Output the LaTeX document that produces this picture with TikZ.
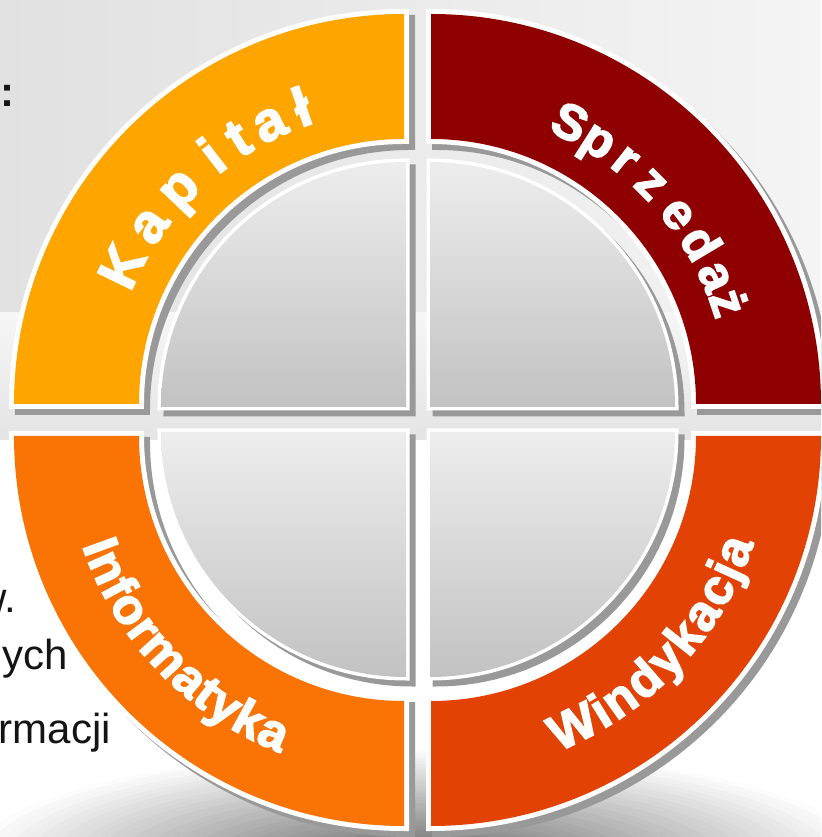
\documentclass[tikz,border=0pt]{standalone}
\usepackage{fontspec}
\setmainfont{Liberation Sans}
\newfontfamily\bandfont{Liberation Sans Bold}[FakeBold=3]
\definecolor{kapc}{HTML}{FFA500}
\definecolor{sprc}{HTML}{8F0000}
\definecolor{infc}{HTML}{FA7305}
\definecolor{winc}{HTML}{E24304}
\definecolor{shadc}{HTML}{999999}
\definecolor{qtop}{HTML}{EDEDED}
\definecolor{qbot}{HTML}{C2C2C2}
\definecolor{bgl}{HTML}{E1E1E1}
\definecolor{bgr}{HTML}{F4F4F4}
\definecolor{midt}{HTML}{F6F6F6}
\definecolor{midb}{HTML}{E4E4E4}
\definecolor{txtc}{HTML}{141414}
\begin{document}
\begin{tikzpicture}[x=1pt,y=1pt,
  lett/.style={text=white, inner sep=0pt, anchor=base},
  kaplett/.style={lett, font=\bandfont\fontsize{55}{55}\selectfont},
  sprlett/.style={lett, font=\bandfont\fontsize{50}{50}\selectfont},
  botlett/.style={lett, font=\bandfont\fontsize{50}{50}\selectfont},
  sidetext/.style={text=txtc, inner sep=0pt, font=\fontsize{42}{50}\selectfont},
  bandshadow/.style={fill=shadc, draw=shadc, line width=10pt},
  bandfill/.style={preaction={draw=white, line width=10pt}, fill=#1},
  quadshadow/.style={fill=shadc, draw=shadc, line width=7pt},
  quadfill/.style={preaction={draw=white, line width=7pt}, top color=qtop, bottom color=qbot}]
\useasboundingbox (0,0) rectangle (821,837);
\clip (0,0) rectangle (821,837);
% background
\fill[white] (0,0) rectangle (821,837);
\shade[left color=bgl, right color=bgr] (0,524) rectangle (821,837);
\shade[top color=midt, bottom color=midb] (0,397) rectangle (821,524);
\foreach \i in {0,...,40}{
  \pgfmathsetmacro\rx{460*(1-\i/41)}
  \pgfmathsetmacro\ry{115*(1-\i/41)}
  \pgfmathtruncatemacro\p{\i*60/40}
  \fill[black!\p] (420,-25) ellipse[x radius=\rx, y radius=\ry];
}
% side texts (partly hidden behind the ring)
\node[sidetext, anchor=base west] (colon) at (0,730) {\textbf{:}};
\node[sidetext, anchor=base east] (t1) at (16,224) {w.};
\node[sidetext, anchor=base east] (t2) at (68,167) {ych};
\node[sidetext, anchor=base east] (t3) at (111,93) {rmacji};
% shadows
\foreach \cx/\cy/\a in {404/433/90,431/433/0,404/401/180,431/401/270}{
  \begin{scope}[shift={(\cx+6,\cy-6)}]
    \path[bandshadow] (\a:390) arc[start angle=\a,end angle=\a+90,radius=390] -- (\a+90:265) arc[start angle=\a+90,end angle=\a,radius=265] -- cycle;
  \end{scope}}
\foreach \cx/\cy/\a in {406/430/90,430/430/0,406/405/180,430/405/270}{
  \begin{scope}[shift={(\cx+6,\cy-6)}]
    \path[quadshadow] (0,0) -- (\a:245) arc[start angle=\a,end angle=\a+90,radius=245] -- cycle;
  \end{scope}}
% bands
\foreach \cx/\cy/\a/\c in {404/433/90/kapc,431/433/0/sprc,404/401/180/infc,431/401/270/winc}{
  \begin{scope}[shift={(\cx,\cy)}]
    \path[bandfill=\c] (\a:390) arc[start angle=\a,end angle=\a+90,radius=390] -- (\a+90:265) arc[start angle=\a+90,end angle=\a,radius=265] -- cycle;
  \end{scope}}
% grey quarters
\foreach \cx/\cy/\a in {406/430/90,430/430/0,406/405/180,430/405/270}{
  \begin{scope}[shift={(\cx,\cy)}]
    \path[quadfill] (0,0) -- (\a:245) arc[start angle=\a,end angle=\a+90,radius=245] -- cycle;
  \end{scope}}
% labels
\begin{scope}[shift={(404,433)}]
\foreach \ang/\ch [count=\i] in {154/K,145/a,136.3/p,127.7/i,122/t,115.6/a,109/ł}
  \node[kaplett, rotate=\ang-90] (kap\i) at (\ang:295) {\ch};
\end{scope}
\begin{scope}[shift={(431,433)}]
\foreach \ang/\ch [count=\i] in {63.7/S,57.5/p,51.4/r,45/z,37.5/e,30.8/d,24.1/a,18.8/ż}
  \node[sprlett, rotate=\ang-90] (spr\i) at (\ang:297) {\ch};
\end{scope}
\begin{scope}[shift={(404,401)}]
\foreach \ang/\ch [count=\i] in {200/I,203.92/n,208.08/f,212.24/o,216.65/r,222.29/m,228.66/a,232.57/t,236.49/y,241.4/k,246.3/a}
  \node[botlett, rotate=\ang+90] (inf\i) at (\ang:340) {\ch};
\end{scope}
\begin{scope}[shift={(431,401)}]
\foreach \ang/\ch [count=\i] in {296/W,301.56/i,305.61/n,311.17/d,316.48/y,321.53/k,326.59/a,331.65/c,335.45/j,339.24/a}
  \node[botlett, rotate=\ang+90] (win\i) at (\ang:340) {\ch};
\end{scope}
\end{tikzpicture}
\end{document}
